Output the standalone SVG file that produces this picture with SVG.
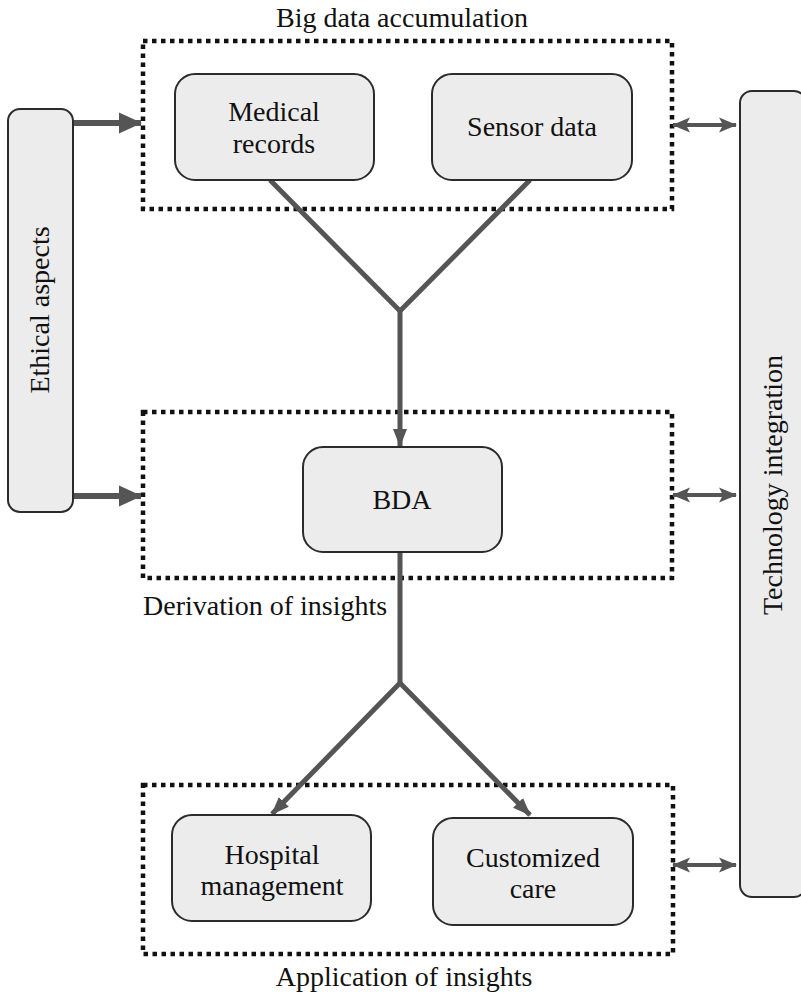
<svg xmlns="http://www.w3.org/2000/svg" width="801" height="998" viewBox="0 0 801 998">
<style>
text{font-family:"Liberation Serif","Times New Roman",serif;font-size:28px;fill:#111;}
.t{text-anchor:middle;}
.node{fill:#ececec;stroke:#2b2b2b;stroke-width:2;}
.grp{fill:none;stroke:#111;stroke-width:4.5;stroke-dasharray:4.5 4.5;}
.con{fill:none;stroke:#555;stroke-width:5;}
.thick{fill:none;stroke:#555;stroke-width:6;}
.dbl{fill:none;stroke:#555;stroke-width:4;}
</style>
<defs>
<marker id="ah" markerUnits="userSpaceOnUse" markerWidth="20" markerHeight="20" viewBox="0 0 20 20" refX="17" refY="10" orient="auto">
<path d="M0,3 L18,10 L0,17 Z" fill="#555"/>
</marker>
<marker id="ahBig" markerUnits="userSpaceOnUse" markerWidth="24" markerHeight="24" viewBox="0 0 24 24" refX="22" refY="12" orient="auto">
<path d="M0,1.5 L23,12 L0,22.5 Z" fill="#555"/>
</marker>
<marker id="ahS" markerUnits="userSpaceOnUse" markerWidth="20" markerHeight="20" viewBox="0 0 20 20" refX="17" refY="10" orient="auto-start-reverse">
<path d="M0,2.5 L18,10 L0,17.5 L4,10 Z" fill="#555"/>
</marker>
</defs>

<g id="group-big-data">
<rect class="grp" x="143" y="41" width="529" height="168"/>
<text class="t" x="402" y="27">Big data accumulation</text>
</g>
<g id="group-derivation">
<rect class="grp" x="143" y="412" width="529" height="166"/>
<text x="143" y="615">Derivation of insights</text>
</g>
<g id="group-application">
<rect class="grp" x="143" y="785" width="530" height="169"/>
<text class="t" x="404" y="986">Application of insights</text>
</g>

<g id="connectors">
<polyline class="con" points="270,180 400,311 530,180"/>
<line class="con" x1="400" y1="311" x2="400" y2="446" marker-end="url(#ah)"/>
<line class="con" x1="400" y1="552" x2="400" y2="683"/>
<line class="con" x1="400" y1="683" x2="272" y2="814" marker-end="url(#ah)"/>
<line class="con" x1="400" y1="683" x2="530" y2="815" marker-end="url(#ah)"/>
<line class="thick" x1="74" y1="123" x2="141" y2="123" marker-end="url(#ahBig)"/>
<line class="thick" x1="74" y1="496" x2="141" y2="496" marker-end="url(#ahBig)"/>
<line class="dbl" x1="673" y1="125" x2="736" y2="125" marker-start="url(#ahS)" marker-end="url(#ahS)"/>
<line class="dbl" x1="673" y1="495" x2="736" y2="495" marker-start="url(#ahS)" marker-end="url(#ahS)"/>
<line class="dbl" x1="673" y1="865" x2="736" y2="865" marker-start="url(#ahS)" marker-end="url(#ahS)"/>
</g>

<g id="medical-records">
<rect class="node" x="175" y="74" width="199" height="106" rx="20"/>
<text class="t" x="274" y="121">Medical</text>
<text class="t" x="274" y="153">records</text>
</g>
<g id="sensor-data">
<rect class="node" x="432" y="74" width="200" height="106" rx="20"/>
<text class="t" x="532" y="136">Sensor data</text>
</g>
<g id="bda">
<rect class="node" x="303" y="447" width="199" height="105" rx="20"/>
<text class="t" x="402" y="509">BDA</text>
</g>
<g id="hospital-management">
<rect class="node" x="172" y="815" width="199" height="106" rx="20"/>
<text class="t" x="272" y="864">Hospital</text>
<text class="t" x="272" y="895">management</text>
</g>
<g id="customized-care">
<rect class="node" x="433" y="818" width="200" height="107" rx="20"/>
<text class="t" x="533" y="867">Customized</text>
<text class="t" x="533" y="898">care</text>
</g>
<g id="ethical-aspects">
<rect class="node" x="8" y="109" width="65" height="403" rx="12"/>
<text class="t" transform="translate(49,310) rotate(-90)">Ethical aspects</text>
</g>
<g id="technology-integration">
<rect class="node" x="740" y="91" width="66" height="806" rx="12"/>
<text class="t" transform="translate(782,485) rotate(-90)">Technology integration</text>
</g>
</svg>
